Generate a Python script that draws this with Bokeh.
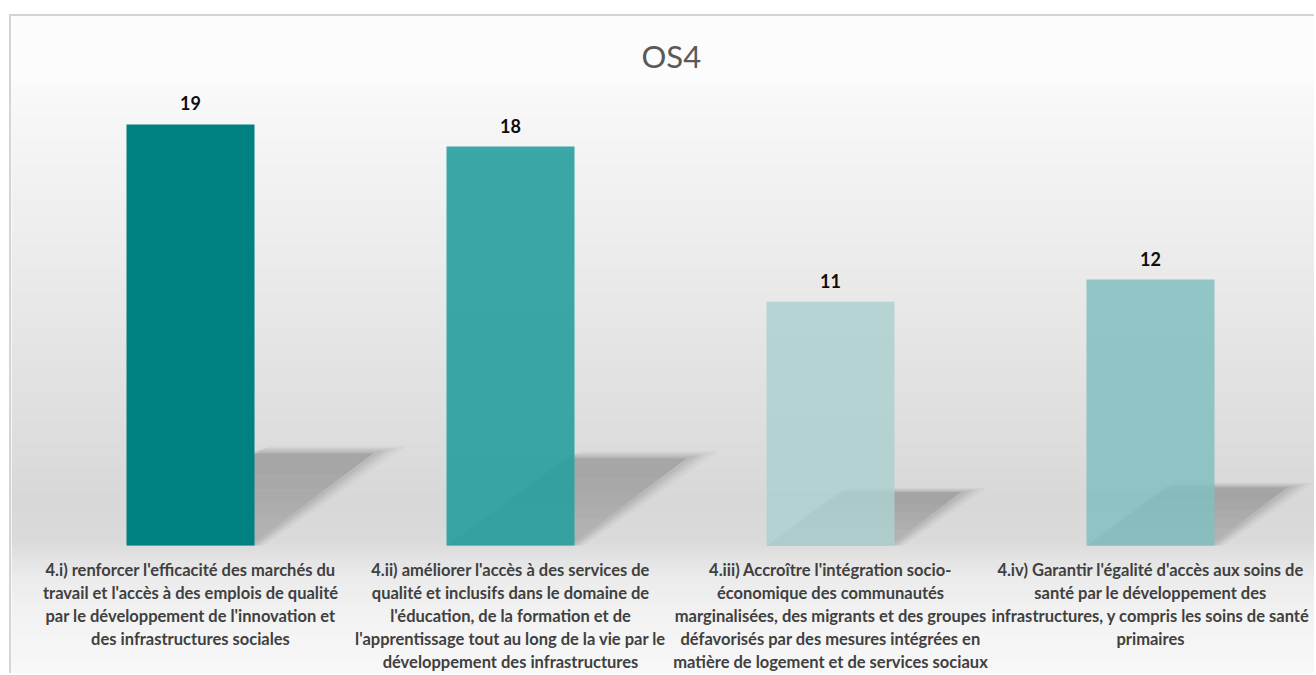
import numpy as np
from bokeh.plotting import figure
from bokeh.models import Range1d, ColumnDataSource
from bokeh.core.properties import value
from bokeh.embed import file_html
from bokeh.resources import INLINE

# ---- data ----
title_text = "OS4"
categories = [
    "4.i) renforcer l'efficacité des marchés du\ntravail et l'accès à des emplois de qualité\npar le développement de l'innovation et\ndes infrastructures sociales",
    "4.ii) améliorer l'accès à des services de\nqualité et inclusifs dans le domaine de\nl'éducation, de la formation et de\nl'apprentissage tout au long de la vie par le\ndéveloppement des infrastructures",
    "4.iii) Accroître l'intégration socio-\néconomique des communautés\nmarginalisées, des migrants et des groupes\ndéfavorisés par des mesures intégrées en\nmatière de logement et de services sociaux",
    "4.iv) Garantir l'égalité d'accès aux soins de\nsanté par le développement des\ninfrastructures, y compris les soins de santé\nprimaires",
]
values = [19, 18, 11, 12]
bar_colors = ["#008080", "#2aa0a0", "#add0d0", "#82bebe"]
bar_alphas = [1.0, 0.92, 0.85, 0.85]

# ---- layout (pixels in window) ----
FIG_LEFT, FIG_TOP = 11, 16
W, H = 1316 - FIG_LEFT, 675 - FIG_TOP
FRAME_TOP = 80            # window y of frame top
CAT0_PX, CAT_STEP = 190, 320
BASE_PX, PX_PER_UNIT = 545, 22.16

x_start = (FIG_LEFT - CAT0_PX) / CAT_STEP
x_end = (1316 - CAT0_PX) / CAT_STEP
y_start = (BASE_PX - 675) / PX_PER_UNIT
y_end = (BASE_PX - FRAME_TOP) / PX_PER_UNIT

p = figure(width=W, height=H, output_backend="svg", toolbar_location=None,
           x_range=Range1d(x_start, x_end), y_range=Range1d(y_start, y_end),
           min_border_left=0, min_border_right=0, min_border_bottom=0,
           min_border_top=FRAME_TOP - FIG_TOP, title=title_text)
p.styles = {"margin-left": "9px", "margin-top": "14px",
            "border-left": "2px solid #d4d4d4", "border-top": "2px solid #d4d4d4"}
p.axis.visible = False
p.grid.visible = False
p.outline_line_color = None
p.border_fill_color = "#fcfcfc"
p.background_fill_color = "#fcfcfc"

p.title.text_font = "Lato"
p.title.text_font_size = "31px"
p.title.text_font_style = "normal"
p.title.text_color = "#595959"
p.title.align = "left"
p.title.offset = 630
p.title.standoff = 12

# ---- background gradient (wall + floor) ----
stops_px = [FRAME_TOP, 120, 250, 400, 500, 540, 555, 580, 620, 675]
stops_g = [250, 246, 236, 224, 216, 218, 226, 236, 243, 248]
edges = np.arange(FRAME_TOP, 676, 4)
tops, bots, cols = [], [], []
for a, b in zip(edges[:-1], edges[1:]):
    g = int(round(np.interp((a + b) / 2, stops_px, stops_g)))
    tops.append((BASE_PX - a) / PX_PER_UNIT)
    bots.append((BASE_PX - b - 0.5) / PX_PER_UNIT)
    cols.append("#%02x%02x%02x" % (g, g, g))
p.quad(left=x_start, right=x_end, top=tops, bottom=bots, fill_color=cols,
       line_color=None)

# ---- soft perspective shadows ----
idx = list(range(len(values)))
half = 0.2
SH_DX, SH_DY = 0.0212, 0.225
for e, alpha in [(0.10, 0.03), (0.06, 0.035), (0.03, 0.04), (0.0, 0.045), (-0.04, 0.045)]:
    xs, ys = [], []
    for i, v in zip(idx, values):
        dx = SH_DX * v * (1 + e)
        hy = SH_DY * v * (1 + e * 0.5)
        xs.append([i - half, i + half + e * 0.3, i + half + dx + e * 0.3, i - half + dx])
        ys.append([0, 0, hy, hy])
    p.patches(xs, ys, fill_color="black", fill_alpha=alpha, line_color=None)
# gradually darker towards the upper edge of each shadow
for f in [0.3, 0.45, 0.6, 0.75]:
    xs, ys = [], []
    for i, v in zip(idx, values):
        dx = SH_DX * v
        hy = SH_DY * v
        xs.append([i - half + dx * f, i + half + dx * f - 0.02, i + half + dx * 0.97 - 0.02, i - half + dx * 0.97])
        ys.append([hy * f, hy * f, hy * 0.97, hy * 0.97])
    p.patches(xs, ys, fill_color="black", fill_alpha=0.015, line_color=None)

# ---- bars ----
src = ColumnDataSource(dict(x=idx, top=values, color=bar_colors, alpha=bar_alphas,
                            label=[str(v) for v in values], cat=categories))
p.vbar(x="x", top="top", bottom=0, width=0.4, fill_color="color", fill_alpha="alpha",
       line_color=None, source=src)

p.text(x="x", y="top", text="label", source=src, text_align="center",
       text_baseline="alphabetic", y_offset=-21, text_font=value("Lato"),
       text_font_style="bold", text_font_size="18px", text_color="#0d0d0d")

p.text(x="x", y=0, text="cat", source=src, text_align="center",
       text_baseline="top", y_offset=14, text_font=value("Lato"),
       text_font_style="bold", text_font_size="16.5px", text_color="#404040",
       text_line_height=1.16)

open("out.html", "w").write(file_html(p, INLINE))
